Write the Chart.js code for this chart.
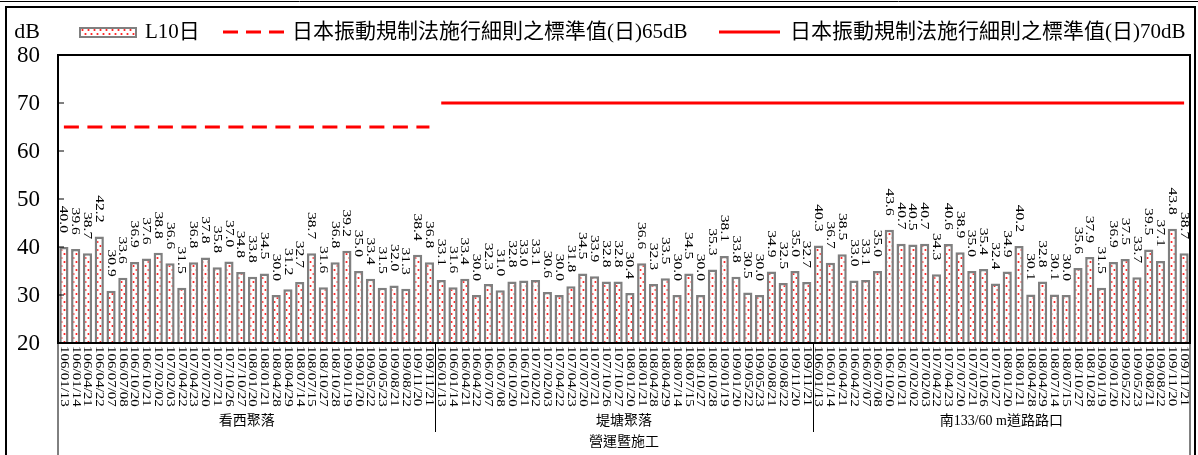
<!DOCTYPE html>
<html>
<head>
<meta charset="utf-8">
<script src="https://cdn.jsdelivr.net/npm/chart.js@4"></script>
<style>
  html, body { margin: 0; padding: 0; background: #fff; }
  #wrap { width: 1198px; height: 455px; }
</style>
</head>
<body>
<div id="wrap"><canvas id="vibChart" width="1198" height="455"></canvas></div>
<script>
// survey dates (same for each site)
const dates = ['106/01/13', '106/01/14', '106/04/21', '106/04/22', '106/07/07', '106/07/08', '106/10/20', '106/10/21',
    '107/02/02', '107/02/03', '107/04/22', '107/04/23', '107/07/20', '107/07/21', '107/10/26', '107/10/27',
    '108/01/20', '108/01/21', '108/04/28', '108/04/29', '108/07/14', '108/07/15', '108/10/27', '108/10/28',
    '109/01/19', '109/01/20', '109/05/22', '109/05/23', '109/08/21', '109/08/22', '109/11/20', '109/11/21'];

const sites = ['看西聚落', '堤塘聚落', '南133/60 m道路路口'];
const stageLabel = '營運暨施工';

// L10 day values per site
const kanxiValues = [40.0, 39.6, 38.7, 42.2, 30.9, 33.6, 36.9, 37.6, 38.8, 36.6, 31.5, 36.8, 37.8, 35.8, 37.0, 34.8,
    33.8, 34.5, 30.0, 31.2, 32.7, 38.7, 31.6, 36.8, 39.2, 35.0, 33.4, 31.5, 32.0, 31.3, 38.4, 36.8];
const ditangValues = [33.1, 31.6, 33.4, 30.0, 32.3, 31.0, 32.8, 33.0, 33.1, 30.6, 30.0, 31.8, 34.5, 33.9, 32.8, 32.8,
    30.4, 36.6, 32.3, 33.5, 30.0, 34.5, 30.0, 35.3, 38.1, 33.8, 30.5, 30.0, 34.9, 32.5, 35.0, 32.7];
const roadValues = [40.3, 36.7, 38.5, 33.0, 33.1, 35.0, 43.6, 40.7, 40.5, 40.7, 34.3, 40.6, 38.9, 35.0, 35.4, 32.4,
    34.9, 40.2, 30.1, 32.8, 30.1, 30.0, 35.6, 37.9, 31.5, 36.9, 37.5, 33.7, 39.5, 37.1, 43.8, 38.7];

// standards: 65dB applies to the first site, 70dB to the other two
const standard65 = [65, null, null];
const standard70 = [null, 70, 70];

const yTicks = [20, 30, 40, 50, 60, 70, 80];

// build the flat arrays chart.js needs
const groupValues = [kanxiValues, ditangValues, roadValues];
const labels = [];
const l10 = [];
const line65 = [];
const line70 = [];
groupValues.forEach((vals, g) => {
    vals.forEach((v, i) => {
        labels.push(dates[i]);
        l10.push(v);
        line65.push(standard65[g]);
        line70.push(standard70[g]);
    });
});

// white with red dots fill
function dotPattern() {
    const c = document.createElement('canvas');
    c.width = 6;
    c.height = 8;
    const p = c.getContext('2d');
    p.fillStyle = '#ffffff';
    p.fillRect(0, 0, 6, 8);
    p.fillStyle = '#ff1a1a';
    p.beginPath(); p.arc(1.5, 2, 1.1, 0, Math.PI * 2); p.fill();
    p.beginPath(); p.arc(4.5, 6, 1.1, 0, Math.PI * 2); p.fill();
    return p.createPattern(c, 'repeat');
}
const pattern = dotPattern();

const serif = '"Liberation Serif", "Times New Roman", "Noto Sans CJK TC", serif';

// draws all texts, axes frame and legend
const decorPlugin = {
    id: 'decor',
    afterDraw(chart) {
        const ctx = chart.ctx;
        const area = chart.chartArea;
        const xs = chart.scales.x;
        const ys = chart.scales.y;
        const barMeta = chart.getDatasetMeta(2);
        ctx.save();

        // outer frame
        ctx.strokeStyle = '#000';
        ctx.lineWidth = 1;
        ctx.beginPath(); ctx.moveTo(0, 1.5); ctx.lineTo(1198, 1.5); ctx.stroke();
        ctx.lineWidth = 2;
        ctx.strokeRect(6, 7, 1189, 460);

        // value labels above bars
        ctx.fillStyle = '#000';
        ctx.font = '13px ' + serif;
        ctx.textAlign = 'right';
        ctx.textBaseline = 'middle';
        barMeta.data.forEach((bar, i) => {
            ctx.save();
            ctx.translate(bar.x, bar.y - 14);
            ctx.rotate(Math.PI / 2);
            ctx.scale(1.2, 1);
            ctx.fillText(l10[i].toFixed(1), 0, 0);
            ctx.restore();
        });

        // date labels under the axis
        ctx.font = '12px ' + serif;
        ctx.textAlign = 'left';
        labels.forEach((lab, i) => {
            ctx.save();
            ctx.translate(xs.getPixelForValue(i), area.bottom + 3);
            ctx.rotate(Math.PI / 2);
            ctx.scale(1.25, 1);
            ctx.fillText(lab, 0, 0);
            ctx.restore();
        });

        // plot frame
        ctx.lineWidth = 2;
        ctx.strokeStyle = '#000';
        ctx.strokeRect(area.left, area.top, area.right - area.left, area.bottom - area.top);

        // y tick marks + labels
        ctx.lineWidth = 1;
        ctx.font = '23px ' + serif;
        ctx.textAlign = 'right';
        ctx.textBaseline = 'middle';
        yTicks.forEach(t => {
            const y = ys.getPixelForValue(t);
            if (t > 20 && t < 80) {
                ctx.beginPath(); ctx.moveTo(area.left, y); ctx.lineTo(area.left + 6, y); ctx.stroke();
            }
            ctx.fillText(String(t), 40, y + 1);
        });
        ctx.font = '22px ' + serif;
        ctx.fillText('dB', 40, 32);

        // group separators and names
        const n = dates.length;
        const step = (xs.getPixelForValue(1) - xs.getPixelForValue(0));
        ctx.beginPath();
        ctx.moveTo(area.left, area.bottom); ctx.lineTo(area.left, 455);
        ctx.moveTo(area.right, area.bottom); ctx.lineTo(area.right, 455);
        for (let g = 1; g < sites.length; g++) {
            const x = Math.round(xs.getPixelForValue(g * n) - step / 2) + 0.5;
            ctx.moveTo(x, area.bottom); ctx.lineTo(x, 432);
        }
        ctx.stroke();
        ctx.font = '14px ' + serif;
        ctx.textAlign = 'center';
        sites.forEach((s, g) => {
            const x = (xs.getPixelForValue(g * n) + xs.getPixelForValue(g * n + n - 1)) / 2;
            ctx.fillText(s, x, 421);
        });
        ctx.fillText(stageLabel, (area.left + area.right) / 2, 442);

        // legend
        const ly = 32;
        ctx.fillStyle = pattern;
        ctx.fillRect(80, 28, 56, 9);
        ctx.strokeStyle = '#808080';
        ctx.lineWidth = 2;
        ctx.strokeRect(80, 28, 56, 9);
        ctx.strokeStyle = '#ff0000';
        ctx.lineWidth = 3;
        ctx.setLineDash([15, 8]);
        ctx.beginPath(); ctx.moveTo(223, ly); ctx.lineTo(284, ly); ctx.stroke();
        ctx.setLineDash([]);
        ctx.beginPath(); ctx.moveTo(719, ly); ctx.lineTo(780, ly); ctx.stroke();
        ctx.fillStyle = '#000';
        ctx.font = '21px ' + serif;
        ctx.textAlign = 'left';
        ctx.fillText('L10日', 145, ly);
        ctx.fillText('日本振動規制法施行細則之標準值(日)65dB', 292, ly);
        ctx.fillText('日本振動規制法施行細則之標準值(日)70dB', 790, ly);

        ctx.restore();
    }
};

const ctx = document.getElementById('vibChart');
const vibChart = new Chart(ctx, {
    type: 'bar',
    data: {
        labels: labels,
        datasets: [{
            type: 'line',
            label: '日本振動規制法施行細則之標準值(日)65dB',
            data: line65,
            borderColor: '#ff0000',
            borderWidth: 3,
            borderDash: [15, 8.5],
            pointRadius: 0,
            spanGaps: false,
            order: 0
        }, {
            type: 'line',
            label: '日本振動規制法施行細則之標準值(日)70dB',
            data: line70,
            borderColor: '#ff0000',
            borderWidth: 3,
            pointRadius: 0,
            spanGaps: false,
            order: 0
        }, {
            label: 'L10日',
            data: l10,
            backgroundColor: pattern,
            borderColor: '#7f7f7f',
            borderWidth: 2.5,
            borderSkipped: false,
            barPercentage: 0.78,
            categoryPercentage: 1,
            order: 1
        }]
    },
    options: {
        responsive: false,
        animation: false,
        layout: {
            padding: { left: 58, top: 55, right: 8, bottom: 112 }
        },
        plugins: {
            legend: { display: false },
            tooltip: { enabled: false }
        },
        scales: {
            x: {
                offset: true,
                grid: { display: false },
                border: { display: false },
                ticks: { display: false },
                afterFit: s => { s.height = 0; }
            },
            y: {
                min: 20,
                max: 80,
                grid: { display: false },
                border: { display: false },
                ticks: { display: false, stepSize: 10 },
                afterFit: s => { s.width = 0; }
            }
        }
    },
    plugins: [decorPlugin]
});
</script>
</body>
</html>
